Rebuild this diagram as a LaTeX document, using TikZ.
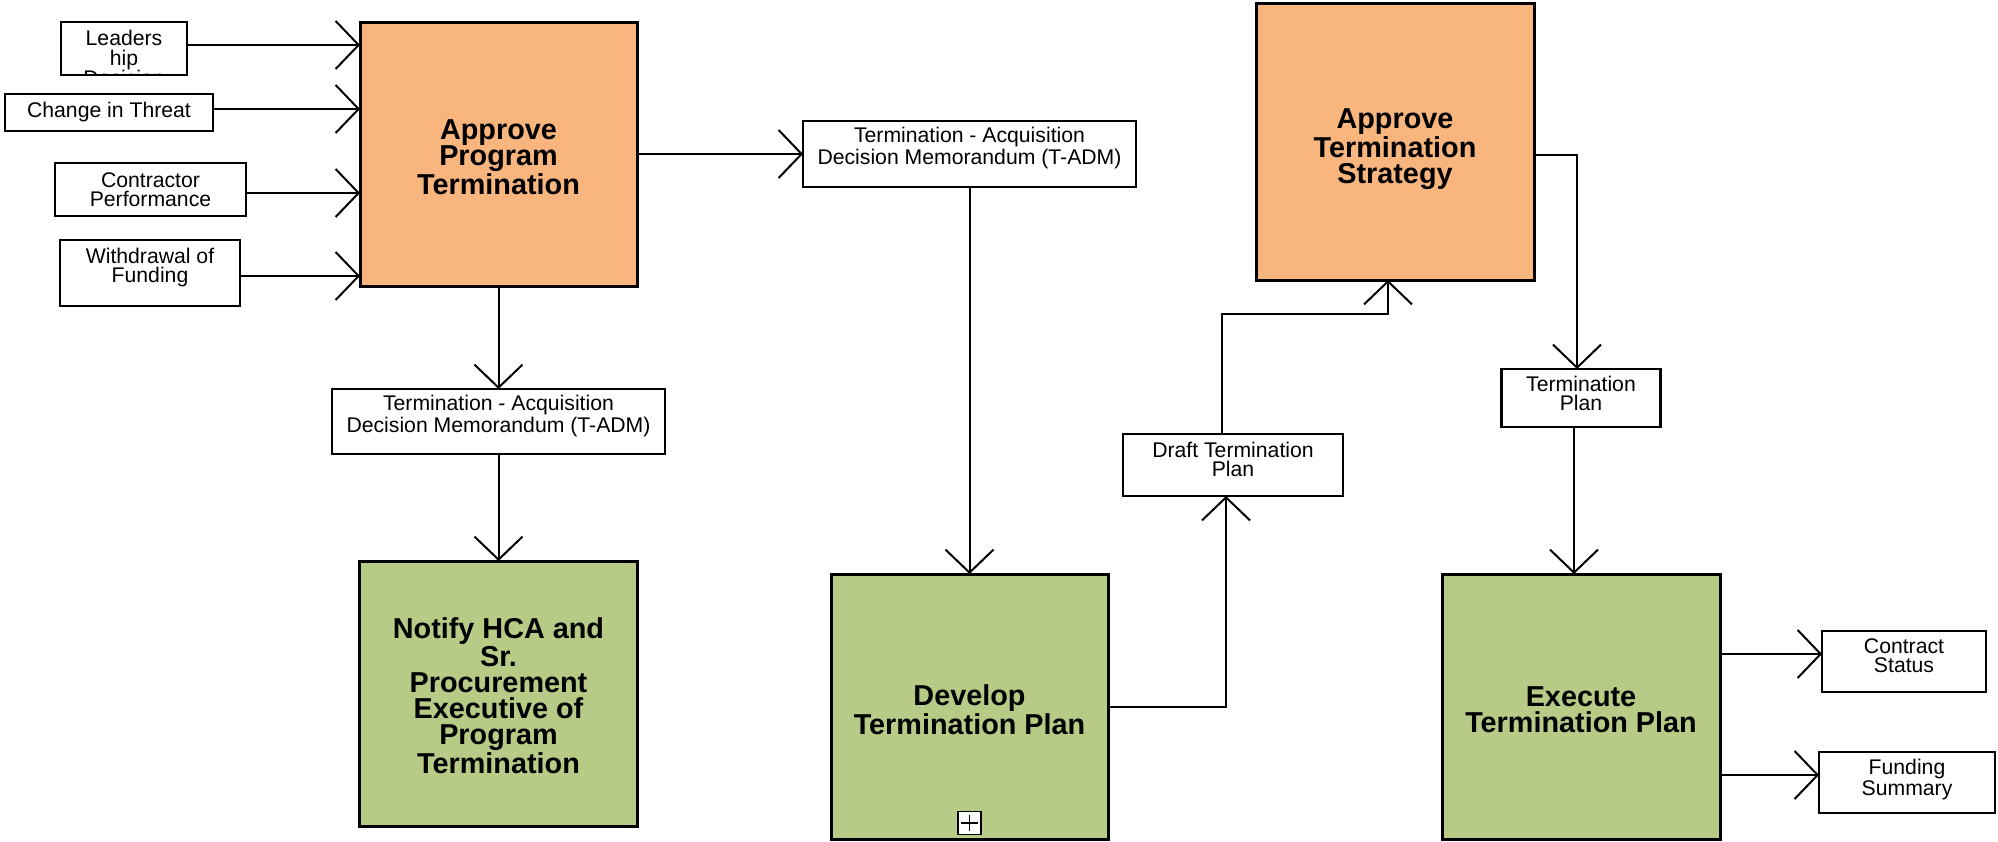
\documentclass[tikz,border=0pt]{standalone}
\usepackage{fontspec}
\setmainfont{Liberation Sans}
\usepackage{tikz}
\usetikzlibrary{positioning,arrows.meta}

\definecolor{apprfill}{RGB}{248,181,126}
\definecolor{taskfill}{RGB}{183,203,135}
% extra depth on the last line pushes the text up in its box,
% extra height on the first line pushes it down
\newcommand{\txtlift}[1]{\rule[-#1]{0pt}{#1}}
\newcommand{\txtdrop}[1]{\rule{0pt}{#1}}

\begin{document}
\begin{tikzpicture}[
  x=0.5pt, y=-0.5pt,
  proc/.style={draw, line width=1.5pt, outer sep=0pt, minimum width=139pt,
               minimum height=132.5pt, align=center, inner sep=0pt,
               font=\fontsize{14.4}{13}\selectfont\bfseries},
  appr/.style={proc, fill=apprfill},
  task/.style={proc, fill=taskfill},
  doc/.style={draw, line width=1.1pt, outer sep=0pt, fill=white, align=center,
              inner sep=0pt, font=\fontsize{10.6}{9.5}\selectfont},
  arr/.style={-{Straight Barb[length=11.5pt, width=24pt]}, line width=1pt},
]
  \path[use as bounding box, fill=white] (0,0) rectangle (1998,841);

  % approve program termination and its inputs
  \node[appr, minimum width=138.5pt, minimum height=132pt] (apt) at (498.5,154)
    {\txtdrop{13.5pt}Approve\\Program\\Termination};
  \node[doc, minimum width=63pt, minimum height=26.5pt] (lead) at (124,48.5) {};
  \begin{scope}
    \clip (lead.south west) rectangle (lead.north east);
    \node[anchor=north, align=center, inner sep=0pt,
          font=\fontsize{10.6}{10}\selectfont] (leadtxt)
      at ([yshift=-3.75pt]lead.north) {Leaders\\hip\\Decision};
  \end{scope}
  \node[doc, minimum width=104pt, minimum height=18.5pt] (threat) at (109,112.5)
    {Change in Threat};
  \node[doc, minimum width=95.5pt, minimum height=26.5pt] (contr) at (150.5,189.5)
    {Contractor\\Performance};
  \node[doc, minimum width=90pt, minimum height=33pt] (withdr) at (150,273)
    {Withdrawal of\\Funding\txtlift{8pt}};
  \coordinate (leadout) at ([yshift=1.75pt]lead.east);
  \coordinate (threatout) at ([yshift=1.75pt]threat.east);
  \coordinate (controut) at ([yshift=-1.75pt]contr.east);
  \coordinate (withdrout) at ([yshift=-1.5pt]withdr.east);

  \draw[arr] (leadout) -- (leadout -| apt.west);
  \draw[arr] (threatout) -- (threatout -| apt.west);
  \draw[arr] (controut) -- (controut -| apt.west);
  \draw[arr] (withdrout) -- (withdrout -| apt.west);

  % t-adm outputs
  \node[doc, right=83pt of apt, minimum width=166.5pt, minimum height=33pt] (tadm1)
    {Termination - Acquisition\\Decision Memorandum (T-ADM)\txtlift{8.5pt}};
  \node[doc, below=51.5pt of apt, minimum width=166.5pt, minimum height=32.5pt] (tadm2)
    {Termination - Acquisition\\Decision Memorandum (T-ADM)\txtlift{7.5pt}};
  \node[task, below=53.5pt of tadm2] (notify)
    {\txtdrop{13pt}Notify HCA and\\Sr.\\Procurement\\Executive of\\Program\\Termination};

  \draw[arr] (apt.east) -- (tadm1.west);
  \draw[arr] (apt.south) -- (tadm2.north);
  \draw[arr] (tadm2.south) -- (notify.north);

  % develop plan and strategy approval
  \node[task, below=193.5pt of tadm1, minimum width=138.5pt] (dev)
    {\txtdrop{13.5pt}Develop\\Termination Plan};
  \node[draw, fill=white, line width=0.6pt, inner sep=0pt, minimum size=11.5pt]
    (devplus) at ([yshift=8pt]dev.south) {};
  \draw[line width=0.6pt] ([yshift=-2pt]devplus.north) -- ([yshift=2pt]devplus.south);
  \draw[line width=0.6pt] ([xshift=2pt]devplus.west) -- ([xshift=-2pt]devplus.east);

  \node[doc, minimum width=110pt, minimum height=31pt] (draft) at (1233,465)
    {Draft Termination\\Plan\txtlift{5.5pt}};
  \node[appr, minimum height=138.5pt] (ats) at (1395,141.5)
    {\txtdrop{17.5pt}Approve\\Termination\\Strategy};

  \draw[arr] (tadm1.south) -- (dev.north);
  \draw[arr] (dev.east) -| ([xshift=-3.5pt]draft.south);
  \draw[arr] ([xshift=-5.5pt]draft.north) -- ++(0,-120) -| ([xshift=-3.5pt]ats.south);

  % execution
  \node[task, right=167pt of dev] (exec) {\txtdrop{13.5pt}Execute\\Termination Plan};
  \node[doc, above=73.5pt of exec, minimum width=79.5pt, minimum height=29pt] (tp)
    {Termination\\Plan\txtlift{5pt}};
  \node[doc, minimum width=82pt, minimum height=30.5pt] (cs) at (1904,661.5)
    {Contract\\Status\txtlift{5.5pt}};
  \node[doc, minimum width=88pt, minimum height=30.5pt] (fs) at (1907,782.5)
    {Funding\\Summary\txtlift{5.5pt}};
  \coordinate (csin) at ([yshift=3.75pt]cs.west);
  \coordinate (fsin) at ([yshift=3.75pt]fs.west);

  \draw[arr] ([yshift=-6.75pt]ats.east) -| ([xshift=-2pt]tp.north);
  \draw[arr] ([xshift=-3.5pt]tp.south) -- ([xshift=-3.5pt]exec.north);
  \draw[arr] (exec.east |- csin) -- (csin);
  \draw[arr] (exec.east |- fsin) -- (fsin);
\end{tikzpicture}
\end{document}
